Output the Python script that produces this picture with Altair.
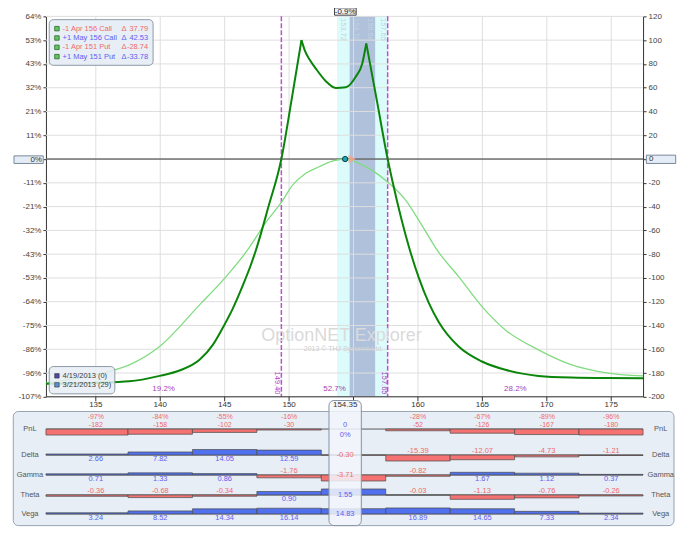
import altair as alt
import pandas as pd

# ================= DATA =================
# Expiration-day (4/19/2013) P&L curve, three pieces split at its two peaks
exp_left_price = [131.13, 135.0, 137.6, 139.95, 141.5, 143.05, 144.08, 144.9, 145.62, 146.4, 147.05, 147.43, 148.4, 149.40, 150.19, 150.96]
exp_left_pnl = [-189.0, -188.2, -187.0, -182.4, -177.9, -168.9, -156.3, -141.0, -126.0, -106.5, -88.5, -76.5, -40.0, 0.0, 49.6, 100.0]
exp_mid_price = [150.96, 151.25, 151.6, 152.08, 152.85, 153.62, 154.4, 155.17, 155.68, 155.99]
exp_mid_pnl = [100.0, 90.5, 83.5, 76.0, 65.5, 59.8, 60.3, 69.2, 80.4, 97.2]
exp_right_price = [155.99, 156.82, 157.65, 158.0, 159.37, 160.07, 160.84, 161.61, 163.16, 164.97, 166.78, 169.35, 171.9, 174.77, 177.47]
exp_right_pnl = [97.2, 48.7, 0.0, -17.6, -76.5, -100.0, -121.0, -137.0, -157.7, -170.3, -177.3, -182.4, -183.8, -184.2, -184.3]

# Today (3/21/2013) P&L curve
t0_price = [131.13, 133.5, 136.08, 137.89, 139.95, 143.05, 145.11, 146.78, 148.21, 149.40, 150.27, 151.3, 152.33, 153.34, 154.38, 155.43, 156.45, 157.62, 159.04, 160.32, 161.48, 163.16, 164.97, 166.78, 169.35, 171.93, 174.51, 177.47]
t0_pnl = [-188.2, -184.5, -178.7, -171.7, -157.7, -122.7, -98.9, -76.5, -53.0, -36.5, -22.0, -12.0, -6.5, -1.8, 0.0, -3.6, -9.5, -19.1, -34.5, -56.0, -76.5, -98.9, -124.1, -143.7, -160.5, -173.1, -179.6, -182.4]

y_ticks = [120, 100, 80, 60, 40, 20, 0, -20, -40, -60, -80, -100, -120, -140, -160, -180, -200]
y_pct_labels = ["64%", "53%", "43%", "32%", "21%", "11%", "", "-11%", "-21%", "-32%", "-43%", "-53%", "-64%", "-75%", "-86%", "-96%", "-107%"]
x_ticks = [135, 140, 145, 150, 155, 160, 165, 170, 175]
x_pct_labels = ["-13.3%", "-10.1%", "-6.9%", "-3.7%", "-0.4%", "2.8%", "6.0%", "9.2%", "12.4%"]
bottom_labels = ["135", "140", "145", "150", "", "160", "165", "170", "175"]
current_price = 154.35
current_label = "154.35"
current_pct = "-0.9%"

band_outer = [153.72, 157.65]
band_inner = [154.70, 156.68]
breakevens = [149.40, 157.65]
prob_labels = ["19.2%", "52.7%", "28.2%"]

legend_pos = ["-1 Apr 156 Call", "+1 May 156 Call", "-1 Apr 151 Put", "+1 May 151 Put"]
legend_delta = ["37.79", "42.53", "-28.74", "-33.78"]
legend_short = [True, False, True, False]
date_legend = ["4/19/2013 (0)", "3/21/2013 (29)"]

rows = ["PnL", "Delta", "Gamma", "Theta", "Vega"]
pnl_vals = [-182, -158, -102, -30, 0, -52, -126, -167, -180]
pnl_pct = ["-97%", "-84%", "-55%", "-16%", "0%", "-28%", "-67%", "-89%", "-96%"]
delta_vals = [2.66, 7.82, 14.05, 12.59, -0.30, -15.39, -12.07, -4.73, -1.21]
gamma_vals = [0.71, 1.33, 0.86, -1.76, -3.71, -0.82, 1.67, 1.12, 0.37]
theta_vals = [-0.36, -0.68, -0.34, 0.90, 1.55, -0.03, -1.13, -0.76, -0.26]
vega_vals = [3.24, 8.52, 14.34, 16.14, 14.83, 16.89, 14.65, 7.33, 2.34]

# ================= STYLE / LAYOUT =================
W, H, MH = 598, 511, 381
X_DOM = [131.13, 177.47]
RED_T, BLUE_T = "#f06a6a", "#6060f0"
RED_B, BLUE_B = "#f47272", "#5070ee"
FONT = "Liberation Sans"
row_base = [32.3, 58.3, 78.3, 98.3, 117.3]
CENTER = 4
FS = 7.5


def sx():
    return alt.Scale(domain=X_DOM, nice=False, zero=False, padding=0)


def sm():
    return alt.Scale(domain=[-200, 120], range=[MH, 0], nice=False, zero=False)


def sb():
    return alt.Scale(domain=[0, 130], range=[MH, H], nice=False, zero=False)


def X(f, axis=None):
    return alt.X(f, type="quantitative", scale=sx(), axis=axis)


def YM(f, axis=None):
    return alt.Y(f, type="quantitative", scale=sm(), axis=axis)


def YB(f):
    return alt.Y(f, type="quantitative", scale=sb(), axis=None)


def lookup(vals, labels):
    return ("[" + ",".join("'%s'" % l for l in labels) + "][indexof(["
            + ",".join(str(v) for v in vals) + "], datum.value)]")


one = pd.DataFrame({"a": [0]})
layers = []

# ---- shaded bands ----
bands = pd.DataFrame({"lo": [band_outer[0], band_inner[0]], "hi": [band_outer[1], band_inner[1]],
                      "top": [120, 120], "bot": [-200, -200], "c": ["#dcfcfc", "#b0c1dc"]})
layers.append(alt.Chart(bands).mark_rect().encode(
    x=X("lo"), x2="hi", y=YM("top"), y2="bot", color=alt.Color("c:N", scale=None)))

# ---- horizontal grid + left axis ----
hgrid = pd.DataFrame({"v": y_ticks})
layers.append(alt.Chart(hgrid).mark_rule(color="#dedede", strokeWidth=1).encode(
    y=YM("v", axis=alt.Axis(orient="left", values=y_ticks, labelExpr=lookup(y_ticks, y_pct_labels),
                            grid=False, tickSize=3, labelPadding=2, domainColor="#333", tickColor="#333",
                            labelColor="#444", labelFontSize=8, labelFont=FONT, title=None)),
    x=alt.value(0), x2=alt.value(W)))

# ---- vertical grid + top axis ----
vgrid = pd.DataFrame({"p": x_ticks, "top": 120, "bot": -200})
layers.append(alt.Chart(vgrid).mark_rule(color="#dedede", strokeWidth=1).encode(
    x=X("p", axis=alt.Axis(orient="top", values=x_ticks, labelExpr=lookup(x_ticks, x_pct_labels),
                           grid=False, tickSize=3, labelPadding=1, domainColor="#333", tickColor="#333",
                           labelColor="#444", labelFontSize=8, labelFont=FONT, title=None,
                           labelOverlap=False)),
    y=YM("top"), y2="bot"))

# ---- break-even dashed lines and labels ----
be = pd.DataFrame({"p": breakevens, "t": ["%.2f" % b for b in breakevens], "top": 120, "bot": -200, "ly": -188.4})
layers.append(alt.Chart(be).mark_rule(color="#c04ed2", strokeWidth=1.5, strokeDash=[5, 2]).encode(
    x=X("p"), y=YM("top"), y2="bot"))
layers.append(alt.Chart(be).mark_text(angle=90, dy=4, fontSize=7.5, color="#b042c4").encode(
    x=X("p"), y=YM("ly"), text="t:N"))

# ---- band edge labels ----
left_edges = [band_outer[0], band_inner[0]]
right_edges = [band_inner[1], band_outer[1]]
le = pd.DataFrame({"p": left_edges, "t": ["%.2f" % v for v in left_edges], "y": 109})
re_ = pd.DataFrame({"p": right_edges, "t": ["%.2f" % v for v in right_edges], "y": 109})
layers.append(alt.Chart(le).mark_text(angle=90, dy=-6, fontSize=7.5, color="#c2d3de").encode(
    x=X("p"), y=YM("y"), text="t:N"))
layers.append(alt.Chart(re_).mark_text(angle=90, dy=5, fontSize=7.5, color="#c2d3de").encode(
    x=X("p"), y=YM("y"), text="t:N"))

# ---- probability labels ----
zones = [X_DOM[0]] + breakevens + [X_DOM[1]]
prob = pd.DataFrame({"p": [(zones[i] + zones[i + 1]) / 2 for i in range(3)], "t": prob_labels, "y": -193.3})
layers.append(alt.Chart(prob).mark_text(fontSize=8, color="#a63fb8").encode(
    x=X("p"), y=YM("y"), text="t:N"))

# ---- watermark ----
layers.append(alt.Chart(one).mark_text(text="OptionNET Explorer", fontSize=18, color="#dadada").encode(
    x=alt.value(296), y=alt.value(320)))
layers.append(alt.Chart(one).mark_text(text="2013 \u00a9 THJ Systems Ltd.", fontSize=7, color="#cfcfcf").encode(
    x=alt.value(298), y=alt.value(333)))

# ---- zero line + right axis ----
zero = pd.DataFrame({"v": [0]})
layers.append(alt.Chart(zero).mark_rule(color="#333", strokeWidth=1).encode(
    y=YM("v", axis=alt.Axis(orient="right", values=y_ticks,
                            labelExpr="datum.value == 0 ? '' : '' + datum.value",
                            grid=False, tickSize=3, labelPadding=2, domainColor="#333", tickColor="#333",
                            labelColor="#444", labelFontSize=8, labelFont=FONT, title=None)),
    x=alt.value(0), x2=alt.value(W)))

# ---- curves ----
t0 = pd.DataFrame({"p": t0_price, "v": t0_pnl})
layers.append(alt.Chart(t0).mark_line(color="#80dc80", strokeWidth=1.3, interpolate="monotone").encode(
    x=X("p"), y=YM("v")))
exp = pd.DataFrame({
    "p": exp_left_price + exp_mid_price + exp_right_price,
    "v": exp_left_pnl + exp_mid_pnl + exp_right_pnl,
    "seg": ["a"] * len(exp_left_price) + ["b"] * len(exp_mid_price) + ["c"] * len(exp_right_price)})
layers.append(alt.Chart(exp).mark_line(color="#0a850a", strokeWidth=2, interpolate="monotone").encode(
    x=X("p"), y=YM("v"), detail="seg:N"))

# ---- current price marker ----
cur = pd.DataFrame({"p": [current_price], "v": [0]})
layers.append(alt.Chart(cur).mark_point(shape="triangle-right", filled=True, size=70, color="#f4a88e",
                                        opacity=0.85, xOffset=7).encode(x=X("p"), y=YM("v")))
layers.append(alt.Chart(cur).mark_circle(size=28, color="#1fa4b4", stroke="#0e3c44", strokeWidth=1,
                                         opacity=1).encode(x=X("p"), y=YM("v")))

# ---- top-left position legend ----
layers.append(alt.Chart(one).mark_rect(cornerRadius=4, fill="#e6edf5", fillOpacity=0.92, stroke="#8d9aa8",
                                       strokeWidth=1).encode(
    x=alt.value(3.3), x2=alt.value(107.3), y=alt.value(3.3), y2=alt.value(49)))
LS = alt.Scale(domain=[0, 3], range=[12.3, 40.3])
leg = pd.DataFrame({"i": list(range(4)), "name": legend_pos, "d": legend_delta,
                    "c": [RED_T if s else BLUE_T for s in legend_short]})
layers.append(alt.Chart(leg).mark_square(size=20, filled=True, color="#62c462", stroke="#2b6a2b",
                                         strokeWidth=0.8, opacity=1).encode(
    x=alt.value(11), y=alt.Y("i:Q", scale=LS, axis=None)))
layers.append(alt.Chart(leg).mark_text(align="left", fontSize=7.5).encode(
    x=alt.value(16.7), y=alt.Y("i:Q", scale=LS, axis=None), text="name:N", color=alt.Color("c:N", scale=None)))
layers.append(alt.Chart(leg).mark_text(align="left", fontSize=7.5, text="\u0394").encode(
    x=alt.value(75.7), y=alt.Y("i:Q", scale=LS, axis=None), color=alt.Color("c:N", scale=None)))
layers.append(alt.Chart(leg).mark_text(align="right", fontSize=7.5).encode(
    x=alt.value(102.3), y=alt.Y("i:Q", scale=LS, axis=None), text="d:N", color=alt.Color("c:N", scale=None)))

# ---- bottom-left date legend ----
layers.append(alt.Chart(one).mark_rect(cornerRadius=4, fill="#e6edf5", fillOpacity=0.85, stroke="#8d9aa8",
                                       strokeWidth=1).encode(
    x=alt.value(3.3), x2=alt.value(69), y=alt.value(350.7), y2=alt.value(378)))
DS = alt.Scale(domain=[0, 1], range=[360, 369])
dleg = pd.DataFrame({"i": [0, 1], "name": date_legend, "c": ["#4b4ba6", "#5b8fd4"]})
layers.append(alt.Chart(dleg).mark_square(size=20, filled=True, stroke="#333", strokeWidth=0.6, opacity=1).encode(
    x=alt.value(11), y=alt.Y("i:Q", scale=DS, axis=None), color=alt.Color("c:N", scale=None)))
layers.append(alt.Chart(dleg).mark_text(align="left", fontSize=7.5, color="#3c3c3c").encode(
    x=alt.value(16.7), y=alt.Y("i:Q", scale=DS, axis=None), text="name:N"))

# ---- zero-label boxes and current % box ----
layers.append(alt.Chart(one).mark_rect(fill="#e4edf7", stroke="#7a8898", strokeWidth=1).encode(
    x=alt.value(-32), x2=alt.value(-2.7), y=alt.value(139.7), y2=alt.value(147.3)))
layers.append(alt.Chart(one).mark_text(text="0%", align="right", fontSize=8, color="#333").encode(
    x=alt.value(-4), y=alt.value(143.5)))
layers.append(alt.Chart(one).mark_rect(fill="#e4edf7", stroke="#7a8898", strokeWidth=1).encode(
    x=alt.value(601.3), x2=alt.value(630.7), y=alt.value(139), y2=alt.value(147.3)))
layers.append(alt.Chart(one).mark_text(text="0", align="left", fontSize=8, color="#333").encode(
    x=alt.value(604), y=alt.value(143.2)))
layers.append(alt.Chart(one).mark_rect(fill="#eef3f9", stroke="#444", strokeWidth=1).encode(
    x=alt.value(289), x2=alt.value(310.7), y=alt.value(-8.5), y2=alt.value(-1.2)))
layers.append(alt.Chart(cur.assign(t=current_pct, y=0)).mark_text(fontSize=8, color="#222").encode(
    x=X("p"), y=alt.value(-4.6), text="t:N"))

# ================= BOTTOM GREEKS PANEL =================
edges = [X_DOM[0]] + [(a + b) / 2 for a, b in zip(x_ticks[:-1], x_ticks[1:])] + [X_DOM[1]]

# bottom axis ticks, border and labels
bt = pd.DataFrame({"p": x_ticks, "a": 0, "b": 4.5})
layers.append(alt.Chart(bt).mark_rule(color="#333").encode(x=X("p"), y=YB("a"), y2="b"))
layers.append(alt.Chart(pd.DataFrame({"lo": [X_DOM[0]], "hi": [X_DOM[1]], "y": [0]})).mark_rule(color="#333").encode(
    x=X("lo"), x2="hi", y=YB("y")))
bl = pd.DataFrame({"p": x_ticks, "t": bottom_labels, "y": 8})
layers.append(alt.Chart(bl).mark_text(fontSize=8, color="#333").encode(x=X("p"), y=YB("y"), text="t:N"))

# panel background
layers.append(alt.Chart(pd.DataFrame({"y0": [14.7], "y1": [129]})).mark_rect(
    cornerRadius=5, fill="#e8eef6", stroke="#98a4b2", strokeWidth=1).encode(
    x=alt.value(-32.7), x2=alt.value(629), y=YB("y0"), y2="y1"))

# baselines
bases = pd.DataFrame({"base": row_base, "lo": X_DOM[0], "hi": X_DOM[1]})
layers.append(alt.Chart(bases).mark_rule(color="#5a5a5a", strokeWidth=1).encode(
    x=X("lo"), x2="hi", y=YB("base")))

# bars and labels
all_vals = [pnl_vals, delta_vals, gamma_vals, theta_vals, vega_vals]
bar_rows, lab_rows, pnl_rows, cen_rows = [], [], [], []
for r, vals in enumerate(all_vals):
    base = row_base[r]
    k = 6.0 / max(abs(v) for v in vals)
    for i, v in enumerate(vals):
        if v != 0:
            bar_rows.append({"lo": edges[i], "hi": edges[i + 1], "y0": base, "y1": base - v * k,
                             "c": RED_B if v < 0 else BLUE_B})
        txt = ("%d" % v) if r == 0 else ("%.2f" % v)
        col = RED_T if v < 0 else BLUE_T
        if i == CENTER:
            if r == 0:
                cen_rows.append({"p": current_price, "y": base - 4.3, "t": txt, "c": BLUE_T})
                cen_rows.append({"p": current_price, "y": base + 5.7, "t": pnl_pct[i], "c": BLUE_T})
            else:
                cen_rows.append({"p": current_price, "y": base, "t": txt, "c": col})
            continue
        if r == 0:
            pnl_rows.append({"p": x_ticks[i], "y": base - 11.8, "t": pnl_pct[i], "c": col})
            pnl_rows.append({"p": x_ticks[i], "y": base - 4.2, "t": txt, "c": col})
        else:
            lab_rows.append({"p": x_ticks[i], "y": base - 3.8 if v < 0 else base + 4.3, "t": txt, "c": col})

layers.append(alt.Chart(pd.DataFrame(bar_rows)).mark_rect(stroke="#4a4a4a", strokeWidth=0.7).encode(
    x=X("lo"), x2="hi", y=YB("y0"), y2="y1", color=alt.Color("c:N", scale=None)))
layers.append(alt.Chart(pd.DataFrame(lab_rows)).mark_text(fontSize=FS).encode(
    x=X("p"), y=YB("y"), text="t:N", color=alt.Color("c:N", scale=None)))
layers.append(alt.Chart(pd.DataFrame(pnl_rows)).mark_text(fontSize=7).encode(
    x=X("p"), y=YB("y"), text="t:N", color=alt.Color("c:N", scale=None)))

# row names
rn = pd.DataFrame({"name": rows, "base": row_base})
layers.append(alt.Chart(rn).mark_text(fontSize=FS, color="#555").encode(
    x=alt.value(-16), y=YB("base"), text="name:N"))
layers.append(alt.Chart(rn).mark_text(fontSize=FS, color="#555").encode(
    x=alt.value(615.7), y=YB("base"), text="name:N"))

# current-price column overlay
layers.append(alt.Chart(pd.DataFrame({"p": [current_price], "y0": [3.7], "y1": [129]})).mark_bar(
    width=32.4, cornerRadius=5, fill="#f2f6fb", fillOpacity=0.85, stroke="#8792a2", strokeWidth=1).encode(
    x=X("p"), y=YB("y0"), y2="y1"))
layers.append(alt.Chart(pd.DataFrame(cen_rows)).mark_text(fontSize=FS).encode(
    x=X("p"), y=YB("y"), text="t:N", color=alt.Color("c:N", scale=None)))
layers.append(alt.Chart(pd.DataFrame({"p": [current_price], "y": [8], "t": [current_label]})).mark_text(
    fontSize=8, color="#333").encode(x=X("p"), y=YB("y"), text="t:N"))

chart = alt.layer(*layers).resolve_scale(y="independent").properties(
    width=W, height=H,
    padding={"left": 38, "top": 8, "right": 40, "bottom": 2},
    autosize=alt.AutoSizeParams(type="none"),
).configure(font=FONT).configure_view(stroke=None)

chart.save("out.html", embed_options={"renderer": "svg", "actions": False})
